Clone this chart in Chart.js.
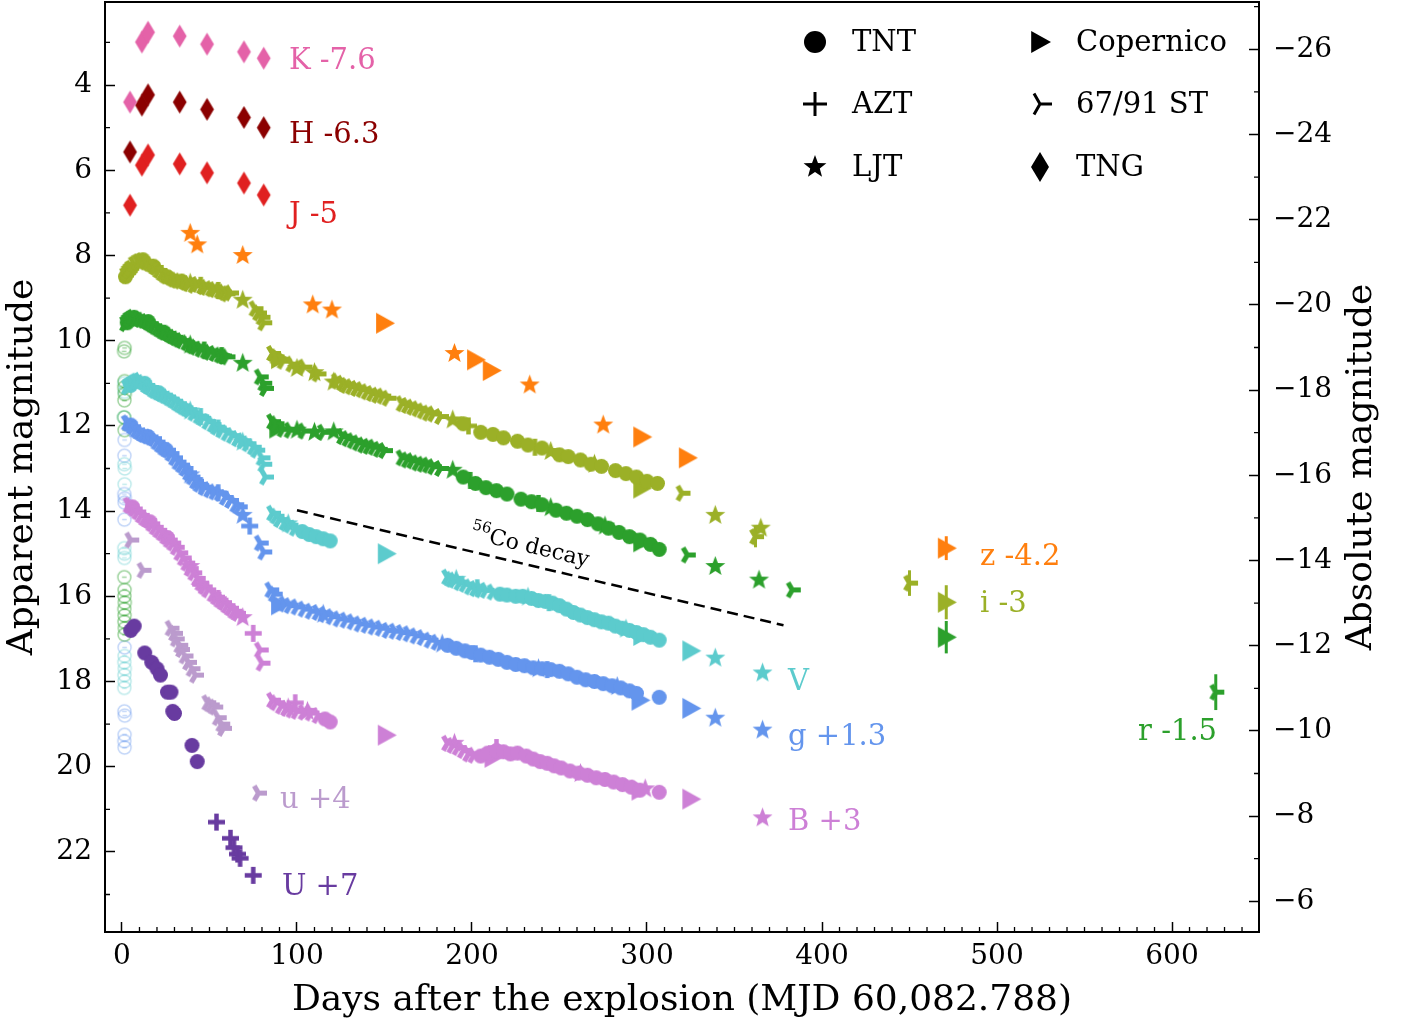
<!DOCTYPE html>
<html>
<head>
<meta charset="utf-8">
<script src="https://cdn.jsdelivr.net/npm/chart.js@4.4.0/dist/chart.umd.min.js"></script>
<style>
  html, body { margin: 0; padding: 0; background: #fff; }
  #lc { display: block; }
</style>
</head>
<body>
<canvas id="lc" width="1413" height="1026"></canvas>
<script>
"use strict";

// Axis ranges / ticks
const X_MIN = -9.7, X_MAX = 649.7;
const Y_MIN = 2.05, Y_MAX = 23.88;
const DIST_MOD = 29.16;
const X_TICKS = [0, 100, 200, 300, 400, 500, 600];
const Y_TICKS = [4, 6, 8, 10, 12, 14, 16, 18, 20, 22];
const Y2_TICKS = [-26, -24, -22, -20, -18, -16, -14, -12, -10, -8, -6];

// Photometry as plotted (band offsets already applied): [days, mag]
const K_TNG = [[4.6,4.4],[11.4,2.99],[14.9,2.76],[33,2.85],[48.6,3.04],[69.7,3.22],[81,3.37]];
const H_TNG = [[4.6,5.57],[11.4,4.47],[14.9,4.23],[33,4.4],[48.6,4.57],[69.7,4.76],[81,5.0]];
const J_TNG = [[4.6,6.82],[11.4,5.88],[14.9,5.64],[33,5.85],[48.6,6.06],[69.7,6.3],[81,6.58]];

const Z_LJT = [[39,7.48],[43,7.75],[69,8.0],[109,9.16],[120,9.28],[190,10.3],[233,11.04],[275,11.98]];
const Z_COP = [[150,9.59],[202,10.45],[211,10.7],[297,12.26],[323,12.75],[471,14.87]];

const I_ST = [[2,8.46],[3,8.4],[4,8.35],[5,8.3],[7,8.2],[9,8.15],[11,8.12],[13,8.15],[15,8.18],[17,8.22],
  [19,8.28],[21,8.35],[23,8.42],[25,8.48],[27,8.5],[29,8.55],[31,8.58],[33,8.6],[36,8.63],[38,8.66],
  [41,8.7],[43,8.68],[46,8.73],[48,8.75],[51,8.78],[53,8.8],[56,8.83],[58,8.86],[60,8.9],[62,8.88],
  [76,9.25],[78,9.35],[80,9.45],[81,9.58],
  [86,10.3],[88,10.38],[92,10.48],[97,10.55],[104,10.62],[112,10.78],[123,10.95],[126,11.0],[128,11.05],
  [131,11.08],[134,11.12],[137,11.15],[140,11.2],[143,11.24],[146,11.28],[149,11.3],[152,11.35],
  [160,11.48],[163,11.52],[166,11.56],[169,11.6],[172,11.65],[175,11.7],[178,11.72],[182,11.78],
  [320,13.58],[362,14.6],[450,15.69]];
const I_TNT = [[2,8.5],[5,8.32],[12,8.1],[18,8.25],[26,8.5],[34,8.6],[195,11.95],[205,12.15],[212,12.2],
  [218,12.28],[226,12.36],[232,12.45],[240,12.52],[250,12.68],[255,12.72],[262,12.8],[268,12.9],
  [274,12.95],[282,13.05],[288,13.12],[294,13.2],[300,13.3],[306,13.35]];
const I_LJT = [[39,8.65],[69,9.05],[100,10.65],[110,10.75],[121,10.97],[189,11.86],[245,12.6],[270,12.9],[339,14.1],[365,14.4]];
const I_AZT = [[45,8.7],[55,8.82],[198,12.0],[236,12.5]];
const I_COP = [[90,10.42],[297,13.46],[471,16.14]];

const R_ST = [[2,9.6],[3,9.55],[4,9.5],[6,9.45],[8,9.48],[10,9.5],[12,9.52],[14,9.55],[16,9.6],[18,9.65],
  [20,9.7],[22,9.75],[24,9.8],[26,9.83],[28,9.88],[30,9.92],[32,9.96],[34,10.0],[37,10.05],[40,10.12],
  [42,10.15],[45,10.2],[48,10.24],[50,10.27],[53,10.3],[56,10.34],[58,10.36],[60,10.38],
  [79,10.85],[81,11.0],[82,11.12],
  [86,11.9],[88,11.95],[92,12.08],[96,12.1],[104,12.12],[115,12.15],[126,12.25],[129,12.3],[132,12.35],
  [135,12.4],[138,12.45],[141,12.48],[144,12.5],[147,12.55],[150,12.58],[160,12.75],[163,12.8],
  [166,12.82],[169,12.87],[172,12.9],[175,12.92],[178,12.96],[182,13.0],
  [323,15.03],[383,15.85],[625,18.25]];
const R_TNT = [[3,9.58],[7,9.45],[15,9.55],[24,9.8],[195,13.2],[202,13.35],[208,13.45],[214,13.52],
  [220,13.6],[228,13.72],[234,13.78],[240,13.85],[248,13.98],[254,14.05],[260,14.12],[266,14.2],
  [272,14.3],[278,14.4],[284,14.5],[290,14.6],[296,14.68],[302,14.78],[307,14.9]];
const R_LJT = [[39,10.1],[69,10.53],[100,12.1],[110,12.15],[121,12.14],[189,13.04],[245,13.92],[276,14.35],[339,15.3],[364,15.62]];
const R_AZT = [[47,10.22],[57,10.35],[199,13.28],[238,13.82]];
const R_COP = [[89,12.05],[297,14.72],[471,16.96]];

const V_ST = [[3,11.09],[4,11.05],[6,11.0],[8,10.95],[10,10.93],[12,10.98],[14,11.05],[16,11.1],[18,11.16],
  [20,11.2],[22,11.24],[24,11.28],[26,11.32],[28,11.37],[30,11.42],[32,11.48],[34,11.53],[36,11.58],
  [38,11.62],[41,11.7],[44,11.77],[46,11.82],[49,11.9],[52,11.97],[54,12.03],[57,12.1],[60,12.17],
  [63,12.23],[66,12.3],[69,12.35],[72,12.42],[75,12.5],[77,12.57],[80,12.75],[81,12.9],[82,13.2],
  [86,14.05],[88,14.12],[90,14.2],[93,14.27],[96,14.33],[99,14.4],
  [186,15.55],[188,15.6],[190,15.62],[193,15.68],[196,15.72],[199,15.78],[202,15.82],[205,15.85],[208,15.86],[212,15.9]];
const V_TNT = [[5,11.05],[13,11.0],[21,11.22],[103,14.48],[107,14.55],[111,14.6],[115,14.65],[119,14.7],
  [216,15.95],[220,15.97],[225,16.0],[229,16.0],[234,16.05],[238,16.1],[242,16.12],[246,16.16],
  [250,16.22],[254,16.3],[258,16.38],[262,16.44],[266,16.5],[270,16.55],[274,16.6],[278,16.63],
  [282,16.7],[286,16.75],[290,16.8],[294,16.85],[298,16.9],[302,16.96],[307,17.03]];
const V_LJT = [[39,11.65],[69,12.38],[95,14.3],[191,15.6],[232,16.02],[288,16.77],[339,17.45],[366,17.8]];
const V_AZT = [[45,11.78],[55,12.05],[203,15.8],[244,16.15]];
const V_COP = [[151,15.0],[297,16.92],[325,17.28]];

const G_ST = [[3,11.93],[4,11.95],[6,12.02],[8,12.1],[10,12.15],[12,12.2],[14,12.23],[16,12.26],[18,12.3],
  [20,12.38],[22,12.45],[24,12.52],[26,12.57],[28,12.65],[30,12.75],[32,12.85],[34,12.92],[36,13.0],
  [38,13.1],[40,13.2],[42,13.3],[44,13.37],[47,13.45],[50,13.5],[53,13.55],[56,13.58],[59,13.68],
  [62,13.75],[65,13.85],[67,13.9],[79,14.75],[81,14.96],
  [85,15.85],[87,15.95],[93,16.18],[96,16.22],[100,16.25],[104,16.3],[108,16.35],[112,16.38],[116,16.43],
  [120,16.48],[124,16.53],[128,16.56],[132,16.6],[136,16.65],[140,16.68],[144,16.72],[148,16.75],
  [152,16.8],[156,16.82],[160,16.85],[164,16.88],[168,16.93],[172,16.97],[176,17.03],[180,17.08]];
const G_TNT = [[5,11.98],[15,12.25],[25,12.55],[186,17.15],[191,17.22],[196,17.28],[200,17.32],[205,17.38],
  [210,17.43],[215,17.48],[220,17.55],[225,17.6],[230,17.63],[235,17.68],[240,17.7],[245,17.72],
  [250,17.76],[255,17.82],[260,17.9],[265,17.96],[270,18.0],[275,18.05],[280,18.1],[285,18.15],
  [290,18.22],[294,18.28],[307,18.37]];
const G_LJT = [[39,13.15],[69,14.1],[115,16.42],[183,17.12],[238,17.7],[283,18.12],[339,18.86],[366,19.14]];
const G_AZT = [[45,13.4],[55,13.57],[73,14.35],[202,17.35],[243,17.72]];
const G_COP = [[90,16.2],[296,18.44],[325,18.63]];

const B_ST = [[4,13.86],[5,13.88],[7,13.95],[9,14.02],[11,14.1],[13,14.17],[15,14.22],[17,14.3],[19,14.38],
  [21,14.45],[23,14.52],[25,14.6],[27,14.68],[29,14.75],[31,14.85],[33,14.98],[35,15.1],[37,15.22],
  [39,15.35],[41,15.45],[43,15.58],[45,15.69],[47,15.78],[49,15.85],[52,15.95],[54,16.02],[56,16.09],
  [58,16.15],[60,16.22],[62,16.28],[64,16.35],[66,16.4],[79,17.26],[80,17.57],
  [86,18.44],[88,18.5],[91,18.58],[94,18.63],[97,18.67],[100,18.7],[104,18.72],[108,18.74],[112,18.8],
  [186,19.45],[189,19.5],[192,19.55],[195,19.62],[198,19.7],[201,19.73]];
const B_TNT = [[6,13.9],[16,14.25],[26,14.62],[116,18.88],[119,18.95],[205,19.75],[209,19.68],[214,19.62],
  [218,19.65],[222,19.7],[226,19.68],[231,19.75],[235,19.82],[239,19.88],[243,19.92],[247,19.98],
  [251,20.03],[256,20.1],[261,20.15],[266,20.2],[271,20.26],[276,20.3],[281,20.36],[286,20.42],
  [291,20.48],[296,20.55],[307,20.6]];
const B_LJT = [[39,15.3],[69,16.5],[95,18.62],[106,18.7],[190,19.45],[262,20.16],[299,20.52],[366,21.2]];
const B_AZT = [[45,15.72],[55,16.05],[75,16.87],[99,18.5],[214,19.55]];
const B_COP = [[151,19.26],[212,19.78],[296,20.55],[325,20.76]];

const u_ST = [[5,14.68],[12,15.39],[28,16.75],[30,16.87],[31,17.0],[33,17.15],[34,17.25],[36,17.4],
  [38,17.55],[40,17.7],[42,17.85],[49,18.5],[51,18.55],[53,18.6],[55,18.85],[57,19.0],[58,19.1],[78,20.62]];
const U_TNT = [[5,16.8],[7,16.7],[13,17.33],[17,17.55],[20,17.7],[22,17.85],[26,18.25],[28,18.25],
  [29,18.7],[30,18.75],[40,19.5],[43,19.88]];
const U_AZT = [[54,21.3],[62,21.68],[64,21.9],[66,22.05],[67.5,22.15],[75,22.55]];

// very early data (faint open circles)
const EARLY_R = [[1.5,10.17],[1.2,10.25],[1.5,10.95],[1.3,11.1],[1.6,11.25],[1.4,11.4],[1.2,11.8],[1.5,12.1],
  [1.3,15.55],[1.5,15.85],[1.4,16.0],[1.6,16.15],[1.3,16.3],[1.5,16.45],[1.4,16.6],[1.6,16.75],[1.5,16.9]];
const EARLY_V = [[1.3,11.0],[1.5,11.2],[1.2,11.8],[1.4,12.9],[1.6,13.0],[1.5,13.37],[1.3,14.87],[1.5,15.0],
  [1.4,15.1],[1.5,17.4],[1.3,17.55],[1.6,17.7],[1.4,17.85],[1.5,18.0],[1.3,18.15]];
const EARLY_G = [[1.5,12.33],[1.4,12.7],[1.3,13.6],[1.6,13.7],[1.5,13.8],[1.4,14.2],[1.5,17.2],[1.4,18.7],
  [1.6,18.8],[1.5,19.25],[1.3,19.4],[1.5,19.55]];

// [band, day, mag, err]
const ERRORBARS = [['z',471,14.87,0.28],['i',471,16.14,0.4],['r',471,16.96,0.38],
  ['i',450,15.69,0.3],['r',625,18.25,0.42],['i',362,14.6,0.25]];

// 56Co decay slope guide
const DECAY_X = [100, 378];
const DECAY_Y = [13.98, 16.68];

// Band labels (text, band, day, mag at baseline)
const LABEL_TEXT = ["K -7.6", "H -6.3", "J -5", "z -4.2", "i -3", "r -1.5", "V", "g +1.3", "B +3", "u +4", "U +7"];
const LABEL_BAND = ["K", "H", "J", "z", "i", "r", "V", "g", "B", "u", "U"];
const LABEL_DAY = [95.4, 95.4, 95.4, 490.3, 490.3, 580.6, 380.6, 380.6, 380.6, 90.3, 91.4];
const LABEL_MAG = [3.63, 5.36, 7.24, 15.27, 16.37, 19.38, 18.2, 19.49, 21.49, 20.97, 23.01];

const TELESCOPES = ["TNT", "AZT", "LJT", "Copernico", "67/91 ST", "TNG"];

const BAND_COLORS = {
  K: "#e462a8", H: "#8b0000", J: "#e02020", z: "#ff7f0e", i: "#9bb027", r: "#2ca02c",
  V: "#5ccbcd", g: "#6495ed", B: "#cd80d6", u: "#bb9bcd", U: "#683ba0",
};

const SERIF = "'DejaVu Serif', serif";

// marker sprites (matplotlib-like shapes)
function markerCanvas(shape, color, size, lw) {
  const pad = Math.ceil(lw || 0) + 2;
  const dim = Math.ceil(size * 2) + pad * 2;
  const c = document.createElement("canvas");
  c.width = dim; c.height = dim;
  const g = c.getContext("2d");
  g.translate(dim / 2, dim / 2);
  g.fillStyle = color; g.strokeStyle = color;
  g.lineWidth = lw || 1; g.lineJoin = "round";
  g.beginPath();
  if (shape === "circle") {
    g.arc(0, 0, size, 0, 2 * Math.PI); g.fill();
  } else if (shape === "ring") {
    g.arc(0, 0, size, 0, 2 * Math.PI); g.stroke();
    g.beginPath(); g.moveTo(-size * 0.35, 0); g.lineTo(size * 0.35, 0); g.stroke();
  } else if (shape === "plus") {
    g.moveTo(-size, 0); g.lineTo(size, 0); g.moveTo(0, -size); g.lineTo(0, size); g.stroke();
  } else if (shape === "star") {
    for (let k = 0; k < 10; k++) {
      const r = k % 2 ? size * 0.42 : size;
      const a = -Math.PI / 2 + k * Math.PI / 5;
      g.lineTo(r * Math.cos(a), r * Math.sin(a));
    }
    g.closePath(); g.fill();
  } else if (shape === "tri") {
    g.moveTo(size, 0); g.lineTo(-size * 0.8, -size); g.lineTo(-size * 0.8, size); g.closePath(); g.fill();
  } else if (shape === "tri4") {
    g.lineCap = "butt";
    g.moveTo(0, 0); g.lineTo(size, 0);
    g.moveTo(0, 0); g.lineTo(-size * 0.5, -size * 0.866);
    g.moveTo(0, 0); g.lineTo(-size * 0.5, size * 0.866);
    g.stroke();
  } else if (shape === "thinDiamond") {
    g.moveTo(0, -size); g.lineTo(size * 0.6, 0); g.lineTo(0, size); g.lineTo(-size * 0.6, 0); g.closePath(); g.fill();
  }
  return c;
}

const TEL_MARK = {
  TNT: ["circle", 7.5, 0], AZT: ["plus", 8.5, 4.5], LJT: ["star", 10.5, 0], COP: ["tri", 10.5, 0],
  ST: ["tri4", 8.5, 5], TNG: ["thinDiamond", 11.5, 0],
};

const SERIES = [
  ["K", "TNG", K_TNG], ["H", "TNG", H_TNG], ["J", "TNG", J_TNG],
  ["z", "LJT", Z_LJT], ["z", "COP", Z_COP],
  ["i", "ST", I_ST], ["i", "TNT", I_TNT], ["i", "LJT", I_LJT], ["i", "AZT", I_AZT], ["i", "COP", I_COP],
  ["r", "ST", R_ST], ["r", "TNT", R_TNT], ["r", "LJT", R_LJT], ["r", "AZT", R_AZT], ["r", "COP", R_COP],
  ["V", "ST", V_ST], ["V", "TNT", V_TNT], ["V", "LJT", V_LJT], ["V", "AZT", V_AZT], ["V", "COP", V_COP],
  ["g", "ST", G_ST], ["g", "TNT", G_TNT], ["g", "LJT", G_LJT], ["g", "AZT", G_AZT], ["g", "COP", G_COP],
  ["B", "ST", B_ST], ["B", "TNT", B_TNT], ["B", "LJT", B_LJT], ["B", "AZT", B_AZT], ["B", "COP", B_COP],
  ["u", "ST", u_ST], ["U", "TNT", U_TNT], ["U", "AZT", U_AZT],
];

const toXY = (arr) => arr.map(p => ({ x: p[0], y: p[1] }));

const datasets = SERIES.map(([band, tel, pts]) => {
  const [shape, size, lw] = TEL_MARK[tel];
  return {
    label: band + " " + tel,
    data: toXY(pts),
    pointStyle: markerCanvas(shape, BAND_COLORS[band], size, lw),
    pointRadius: 6,
    showLine: false,
    order: 1,
  };
});

[["r", EARLY_R, 0.45], ["V", EARLY_V, 0.38], ["g", EARLY_G, 0.38]].forEach(([band, pts, alpha]) => {
  const cv = document.createElement("canvas");
  const sprite = markerCanvas("ring", BAND_COLORS[band], 6.5, 1.5);
  cv.width = sprite.width; cv.height = sprite.height;
  const g = cv.getContext("2d");
  g.globalAlpha = alpha; g.drawImage(sprite, 0, 0);
  datasets.push({ label: band + " early", data: toXY(pts), pointStyle: cv, pointRadius: 6, showLine: false, order: 10 });
});

datasets.push({
  label: "56Co decay",
  data: toXY(DECAY_X.map((d, k) => [d, DECAY_Y[k]])),
  showLine: true, borderColor: "#000", borderWidth: 2.5, borderDash: [11, 6],
  pointRadius: 0, order: 5,
});

// --- decorations -----------------------------------------------------------
const LEGEND_MARK = {
  TNT: ["circle", 11, 0], AZT: ["plus", 12, 3], LJT: ["star", 12, 0],
  Copernico: ["tri", 11, 0], "67/91 ST": ["tri4", 12, 3], TNG: ["thinDiamond", 15, 0],
};

const decorations = {
  id: "decorations",
  beforeDatasetsDraw(chart) {
    const { ctx, scales: { x, y } } = chart;
    ctx.save();
    ctx.lineWidth = 3;
    ERRORBARS.forEach(([band, d, m, e]) => {
      ctx.strokeStyle = BAND_COLORS[band];
      ctx.beginPath();
      ctx.moveTo(x.getPixelForValue(d), y.getPixelForValue(m - e));
      ctx.lineTo(x.getPixelForValue(d), y.getPixelForValue(m + e));
      ctx.stroke();
    });
    ctx.restore();
  },
  afterDatasetsDraw(chart) {
    const { ctx, chartArea: a, scales: { x, y } } = chart;
    ctx.save();

    // band labels
    ctx.font = "29px " + SERIF;
    ctx.textAlign = "left"; ctx.textBaseline = "alphabetic";
    LABEL_TEXT.forEach((t, k) => {
      ctx.fillStyle = BAND_COLORS[LABEL_BAND[k]];
      ctx.fillText(t, x.getPixelForValue(LABEL_DAY[k]), y.getPixelForValue(LABEL_MAG[k]));
    });

    // 56Co decay label, along the dashed line
    const x0 = x.getPixelForValue(DECAY_X[0]), y0 = y.getPixelForValue(DECAY_Y[0]);
    const x1 = x.getPixelForValue(DECAY_X[1]), y1 = y.getPixelForValue(DECAY_Y[1]);
    const ang = Math.atan2(y1 - y0, x1 - x0);
    const f = 0.47;
    ctx.translate(x0 + (x1 - x0) * f, y0 + (y1 - y0) * f);
    ctx.rotate(ang);
    ctx.fillStyle = "#000";
    const main = "Co decay";
    ctx.font = "15px " + SERIF;
    const supW = ctx.measureText("56").width;
    ctx.font = "22px " + SERIF;
    const mainW = ctx.measureText(main).width;
    const startX = -(supW + mainW) / 2;
    ctx.fillText(main, startX + supW, -12);
    ctx.font = "15px " + SERIF;
    ctx.fillText("56", startX, -22);
    ctx.setTransform(1, 0, 0, 1, 0, 0);

    // legend, two columns
    const colX = [815, 1040], textX = [852, 1076], rowY = [42, 104, 167];
    ctx.font = "29px " + SERIF;
    ctx.textBaseline = "middle";
    ctx.fillStyle = "#000";
    TELESCOPES.forEach((t, k) => {
      const col = Math.floor(k / 3), row = k % 3;
      const [shape, size, lw] = LEGEND_MARK[t];
      const m = markerCanvas(shape, "#000", size, lw);
      ctx.drawImage(m, colX[col] - m.width / 2, rowY[row] - m.height / 2);
      ctx.fillText(t, textX[col], rowY[row] + 1);
    });

    // frame top edge
    ctx.strokeStyle = "#000"; ctx.lineWidth = 2;
    ctx.beginPath(); ctx.moveTo(a.left, a.top); ctx.lineTo(a.right, a.top); ctx.stroke();

    // right axis title (reads bottom to top)
    ctx.translate(1362, (a.top + a.bottom) / 2);
    ctx.rotate(-Math.PI / 2);
    ctx.font = "36px " + SERIF;
    ctx.textAlign = "center"; ctx.textBaseline = "middle";
    ctx.fillText("Absolute magnitude", 0, 0);
    ctx.restore();
  },
  afterDraw(chart) {
    const { ctx, chartArea: a, scales: { x, y, y2 } } = chart;
    ctx.save();
    ctx.strokeStyle = "#000"; ctx.lineWidth = 1.3;
    ctx.beginPath();
    for (let d = 10; d <= 640; d += 10) {
      if (d % 100 === 0) continue;
      const p = x.getPixelForValue(d);
      ctx.moveTo(p, a.bottom); ctx.lineTo(p, a.bottom - 5);
    }
    for (let m = 3; m <= 23; m += 2) {
      const p = y.getPixelForValue(m);
      ctx.moveTo(a.left, p); ctx.lineTo(a.left + 5, p);
    }
    for (let m = -27; m <= -5; m += 2) {
      if (m < y2.min || m > y2.max) continue;
      const p = y2.getPixelForValue(m);
      ctx.moveTo(a.right, p); ctx.lineTo(a.right - 5, p);
    }
    ctx.stroke();
    ctx.restore();
  },
};

const tickFont = { family: SERIF, size: 28 };
const majorGrid = { drawOnChartArea: false, drawTicks: true, tickLength: -10, tickWidth: 1.5, tickColor: "#000" };
const axisBorder = { display: true, color: "#000", width: 2 };
const fixTicks = (vals) => (s) => { s.ticks = vals.map(v => ({ value: v })); };

new Chart(document.getElementById("lc"), {
  type: "scatter",
  data: { datasets },
  options: {
    responsive: false,
    animation: false,
    devicePixelRatio: 1,
    events: [],
    layout: { autoPadding: false, padding: { top: 2, left: 0, right: 0, bottom: 0 } },
    plugins: { legend: { display: false }, tooltip: { enabled: false }, title: { display: false } },
    scales: {
      x: {
        type: "linear", position: "bottom", min: X_MIN, max: X_MAX,
        afterBuildTicks: fixTicks(X_TICKS),
        afterFit: (s) => { s.height = 94; s.paddingLeft = 0; s.paddingRight = 0; },
        ticks: { font: tickFont, color: "#000", padding: 18, maxRotation: 0, autoSkip: false },
        grid: majorGrid,
        border: axisBorder,
        title: {
          display: true, text: "Days after the explosion (MJD 60,082.788)",
          font: { family: SERIF, size: 36 }, color: "#000", padding: { top: 0, bottom: 4 },
        },
      },
      y: {
        type: "linear", position: "left", reverse: true, min: Y_MIN, max: Y_MAX,
        afterBuildTicks: fixTicks(Y_TICKS),
        afterFit: (s) => { s.width = 105; s.paddingTop = 0; s.paddingBottom = 0; },
        ticks: { font: tickFont, color: "#000", padding: 23, autoSkip: false },
        grid: majorGrid,
        border: axisBorder,
        title: {
          display: true, text: "Apparent magnitude",
          font: { family: SERIF, size: 36 }, color: "#000", padding: { top: 1, bottom: 0 },
        },
      },
      y2: {
        type: "linear", position: "right", reverse: true, min: Y_MIN - DIST_MOD, max: Y_MAX - DIST_MOD,
        afterBuildTicks: fixTicks(Y2_TICKS),
        afterFit: (s) => { s.width = 154; s.paddingTop = 0; s.paddingBottom = 0; },
        ticks: {
          font: tickFont, color: "#000", padding: 24, autoSkip: false,
          callback: (v) => (v < 0 ? "\u2212" : "") + Math.abs(v),
        },
        grid: majorGrid,
        border: axisBorder,
      },
    },
  },
  plugins: [decorations],
});
</script>
</body>
</html>
